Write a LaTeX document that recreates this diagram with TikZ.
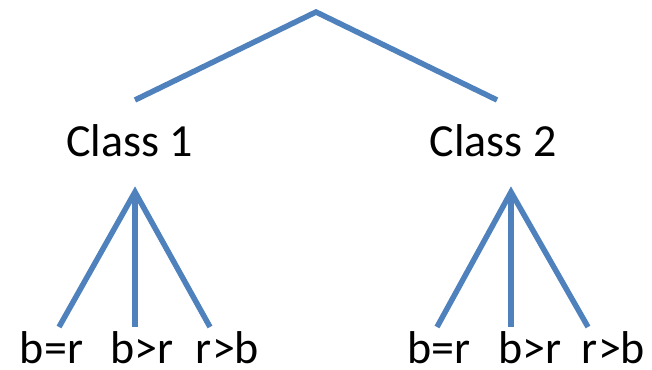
\documentclass[tikz,border=0pt]{standalone}
\usepackage{fontspec}
\setmainfont{Carlito}
\definecolor{branch}{HTML}{4F81BD}
\begin{document}
\begin{tikzpicture}[x=1pt,y=-1pt,
  edge/.style={draw=branch,line width=5.5pt},
  lbl/.style={inner sep=0pt,anchor=base,text depth=0pt,font=\fontsize{46}{55}\selectfont}]
\useasboundingbox (0,0) rectangle (652,369);
% coordinates
\coordinate (root) at (316,12);
\coordinate (c1top) at (135,100);
\coordinate (c2top) at (497,100);
\coordinate (c1bot) at (135,192);
\coordinate (c2bot) at (511,192);
\coordinate (l1) at (59,327);
\coordinate (l2) at (135,327);
\coordinate (l3) at (210,327);
\coordinate (r1) at (437,327);
\coordinate (r2) at (511,327);
\coordinate (r3) at (588,327);
% labels
\node[lbl] (class1) at (129.5,156) {Class 1};
\node[lbl] (class2) at (493,156) {Class 2};
\node[lbl] (a1) at (51.5,363) {b=r};
\node[lbl] (a2) at (142,363) {b>r};
\node[lbl] (a3) at (227.5,363) {r>b};
\node[lbl] (b1) at (439,363) {b=r};
\node[lbl] (b2) at (530,363) {b>r};
\node[lbl] (b3) at (613.5,363) {r>b};
% edges
\draw[edge] (c1top) -- (root) -- (c2top);
\draw[edge] (l1) -- (c1bot) -- (l3);
\draw[edge] (c1bot) -- (l2);
\draw[edge] (r1) -- (c2bot) -- (r3);
\draw[edge] (c2bot) -- (r2);
\end{tikzpicture}
\end{document}
